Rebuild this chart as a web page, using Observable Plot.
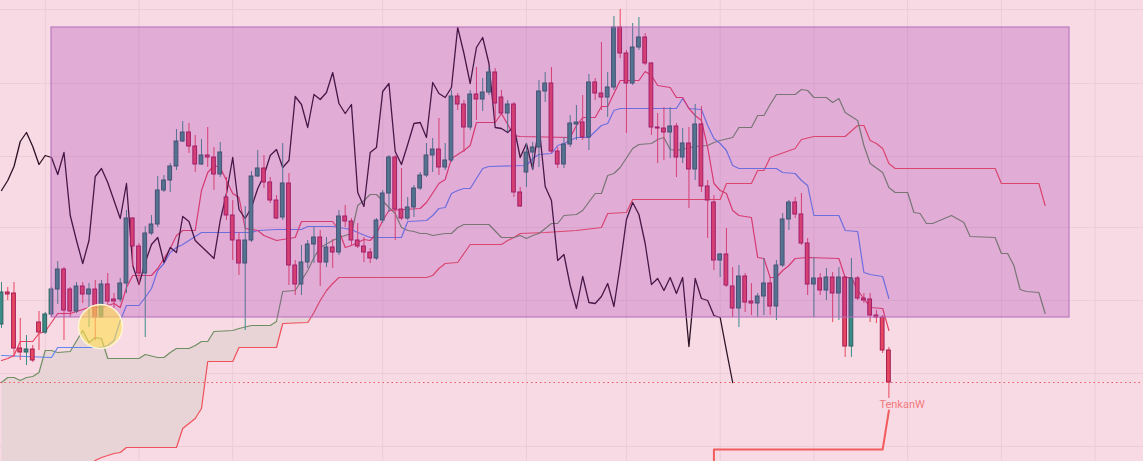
<!DOCTYPE html>
<html><head><meta charset="utf-8">
<script src="https://cdn.jsdelivr.net/npm/d3@7"></script>
<script src="https://cdn.jsdelivr.net/npm/@observablehq/plot@0.6"></script>
<style>
html,body{margin:0;padding:0;background:#f8dae4;overflow:hidden;}
#chart svg{display:block;overflow:hidden;}
</style></head><body><div id="chart"></div>
<script>
// Candles (price units), one entry per bar
const opens = [176,208,207,152,148,151,178,168,186,211,
231,211,189,214,206,211,183,216,201,201,
217,282,254,227,267,276,310,320,334,359,
368,354,336,345,343,326,303,285,260,237,
260,324,332,318,300,283,317,235,216,238,
256,263,238,253,248,284,279,260,254,248,
242,280,307,343,291,282,293,312,325,345,
351,333,340,404,396,373,406,401,408,428,
403,387,396,308,328,348,353,409,417,349,
336,356,376,378,363,418,407,403,413,473,
447,417,453,463,437,373,372,368,374,343,
357,331,376,314,298,240,246,214,192,224,
199,197,204,217,194,235,281,298,286,257,
216,222,210,223,207,223,154,222,202,201,
185,183,150];
const highs = [218,213,218,182,165,155,189,188,213,239,
233,213,218,218,217,220,220,227,207,222,
290,283,257,274,285,324,325,337,371,379,
377,365,361,373,353,358,323,300,268,294,
329,350,345,323,305,357,327,240,255,260,
273,270,263,261,290,295,282,277,263,252,
282,310,345,345,332,303,315,328,357,362,
382,357,410,407,400,410,433,422,433,432,
410,400,398,313,357,358,420,428,433,353,
363,385,395,405,426,422,458,428,484,491,
450,477,483,467,438,387,393,393,377,372,
373,396,394,320,305,247,272,233,235,227,
217,207,242,223,240,287,300,303,307,262,
243,227,232,228,233,224,242,224,207,207,
190,185,153];
const lows = [172,200,143,140,135,138,150,166,184,196,
160,183,187,197,173,160,182,195,192,198,
207,233,215,163,265,273,308,308,330,358,
347,328,335,333,310,323,280,240,225,170,
258,323,312,297,281,280,215,205,205,232,
237,214,233,232,245,273,255,252,238,237,
240,277,288,260,280,280,283,310,323,328,
325,330,338,390,348,370,380,389,405,378,
385,368,303,293,313,330,333,398,347,332,
332,353,360,360,350,400,390,383,410,442,
367,415,450,435,365,337,340,342,323,337,
292,320,308,262,230,223,213,183,173,188,
185,183,185,185,180,233,270,282,255,205,
183,205,200,178,180,143,143,200,197,178,
177,147,102];
const closes = [208,206,152,148,151,140,168,186,211,231,
190,189,214,206,211,183,216,199,199,217,
282,254,227,267,276,310,320,334,359,368,
354,336,345,343,326,348,285,260,237,260,
324,332,318,300,282,317,235,216,238,256,
263,238,253,248,284,279,260,254,248,242,
280,307,343,291,282,293,312,325,345,351,
333,340,404,396,373,406,401,408,428,397,
387,396,308,294,348,353,409,417,349,336,
356,377,378,363,418,407,403,413,473,447,
417,453,463,437,373,372,368,374,343,357,
331,376,314,300,240,246,215,192,224,198,
197,204,217,194,235,281,298,286,257,216,
222,210,223,207,223,154,222,202,200,185,
183,150,118];

// Indicator lines: [bar index, price] vertices
const tenkan = [[0,140],[1,142],[2,145],[3,159],[5,159],[6,167],[7,169],[8,178],[9,187],[11,187],[12,189],[14,193],[16,193],[18,197],[19,193],[20,213],[21,225],[24,225],[25,232],[27,252],[28,265],[29,270],[31,270],[32,310],[33,328],[34,335],[35,333],[36,320],[37,307],[38,303],[39,272],[41,270],[42,265],[44,260],[45,261],[47,263],[48,279],[53,279],[54,270],[55,253],[56,255],[58,261],[59,260],[60,267],[61,280],[62,290],[67,292],[68,298],[70,317],[71,321],[72,342],[74,350],[75,355],[76,378],[79,378],[80,387],[82,365],[83,364],[91,363],[92,375],[93,383],[95,383],[96,394],[97,394],[99,420],[102,420],[103,429],[104,425],[105,415],[107,413],[108,403],[109,403],[110,392],[111,385],[112,380],[113,353],[114,317],[115,310],[116,307],[117,290],[118,285],[120,283],[121,243],[122,242],[123,223],[124,223],[125,230],[126,235],[127,242],[129,243],[134,242],[135,223],[136,223],[137,210],[138,202],[139,193],[141,192],[142,170]];
const kijun = [[0,145],[8,143],[9,153],[16,153],[17,155],[18,160],[19,180],[20,195],[22,195],[23,203],[24,212],[25,230],[26,237],[27,248],[28,253],[29,256],[30,260],[31,264],[32,268],[40,268],[41,270],[44,271],[48,271],[49,274],[53,274],[56,271],[57,268],[59,263],[64,263],[65,279],[68,280],[69,285],[70,292],[71,293],[72,307],[73,310],[74,312],[75,312],[76,322],[77,332],[78,334],[84,335],[85,342],[86,346],[88,347],[89,355],[90,357],[91,360],[92,363],[94,363],[96,375],[97,377],[98,390],[99,392],[108,392],[109,402],[110,392],[112,391],[113,375],[114,362],[115,357],[116,350],[117,335],[118,332],[124,332],[125,328],[127,327],[128,320],[129,315],[130,285],[134,285],[135,270],[137,269],[138,228],[139,226],[141,224],[142,202]];
const senkouRed = [[0,22],[13,22],[14,34],[15,40],[16,43],[18,47],[19,48],[20,53],[28,53],[29,72],[31,82],[32,92],[33,139],[37,139],[38,153],[44,153],[45,177],[49,178],[50,188],[51,200],[52,210],[53,217],[54,223],[68,223],[69,225],[70,232],[71,237],[73,238],[74,247],[75,256],[80,256],[81,260],[82,263],[83,267],[87,268],[92,270],[96,273],[97,287],[100,288],[101,301],[115,301],[116,317],[120,317],[121,330],[122,330],[123,343],[127,352],[128,361],[130,364],[135,364],[137,375],[138,375],[139,360],[140,357],[141,352],[142,337],[143,332],[159,332],[160,317],[166,317],[167,295]];
const senkouGreen = [[0,118],[1,123],[2,123],[3,120],[4,123],[5,124],[6,128],[7,150],[8,150],[9,148],[11,149],[13,170],[14,158],[15,163],[16,162],[17,142],[22,142],[23,146],[25,143],[26,143],[27,148],[28,152],[30,152],[31,155],[32,159],[33,159],[34,169],[37,170],[38,172],[40,175],[43,175],[44,179],[45,209],[47,210],[48,220],[49,230],[50,243],[51,253],[53,260],[54,263],[56,267],[57,295],[58,300],[59,306],[60,306],[62,293],[63,287],[64,273],[65,270],[66,269],[67,267],[68,267],[69,265],[71,267],[72,267],[73,273],[74,276],[78,276],[80,263],[82,263],[83,265],[84,262],[85,265],[86,267],[88,277],[89,277],[90,285],[92,286],[93,290],[95,307],[96,307],[97,325],[98,327],[99,333],[101,352],[102,356],[104,357],[105,361],[106,363],[107,351],[108,350],[111,354],[113,355],[114,358],[115,360],[117,363],[118,373],[120,373],[121,385],[122,385],[123,396],[124,406],[127,406],[128,411],[129,410],[130,403],[132,403],[133,398],[134,402],[135,388],[136,384],[137,380],[138,355],[139,337],[141,328],[142,313],[143,308],[145,308],[146,288],[147,287],[148,277],[149,277],[152,285],[154,278],[155,264],[159,263],[160,247],[161,247],[162,235],[163,211],[164,209],[166,208],[167,187]];
const tenkanW = [[114,20],[114,51],[141,51],[142,90]];
const chikouShift = 25;

// Annotations
const zone = [{x1: 8.0, x2: 170.9, y1: 473, y2: 183}];
const marker = [{x: 15.84, y: 174}];
const labels = [{x: 142, y: 96, text: "TenkanW"}];
const gridX = [7, 22, 37, 61, 84, 100, 115, 130, 145, 160, 175];
const gridY = [491, 417, 344, 273, 200, 127, 54];

const N = opens.length;
const bars = d3.range(N).map(i => ({i, o: opens[i], h: highs[i], l: lows[i], c: closes[i]}));
const bull = bars.filter(d => d.c >= d.o);
const bear = bars.filter(d => d.c < d.o);
const pts = a => a.map(([x, y]) => ({x, y}));
const chikou = d3.range(N - chikouShift).map(j => ({x: j, y: closes[j + chikouShift]}));
// cloud polygon, shown only below the highlighted zone (it is hidden under the zone in the picture)
const zoneBottom = zone[0].y2;
const cloud = [...pts(senkouGreen), ...pts(senkouRed).reverse()].map(d => ({x: d.x, y: Math.min(d.y, zoneBottom)}));
const W = 0.3;

const chart = Plot.plot({
  width: 1143, height: 461, margin: 0,
  x: {domain: [-0.16, 182.74], axis: null},
  y: {domain: [39, 500], axis: null},
  style: {background: "#f8dae4", overflow: "hidden"},
  marks: [
    Plot.ruleX(gridX, {stroke: "#ecccd7", strokeWidth: 1}),
    Plot.ruleY(gridY, {stroke: "#ecccd7", strokeWidth: 1}),
    Plot.line(cloud, {x: "x", y: "y", fill: "#e8d3d7", stroke: "none", clip: true}),
    Plot.line(pts(senkouRed), {x: "x", y: "y", stroke: "#ef5059", strokeWidth: 1.2, clip: true}),
    Plot.line(pts(senkouGreen), {x: "x", y: "y", stroke: "#6f8f62", strokeWidth: 1.2, clip: true}),
    Plot.line(pts(kijun), {x: "x", y: "y", stroke: "#5f85ee", strokeWidth: 1.2, clip: true}),
    Plot.line(pts(tenkan), {x: "x", y: "y", stroke: "#e8405e", strokeWidth: 1.2, clip: true}),
    Plot.line(chikou, {x: "x", y: "y", stroke: "#2b1224", strokeWidth: 1.3, clip: true}),
    Plot.ruleX(bull, {x: "i", y1: "l", y2: "h", stroke: "#3b8c87", strokeWidth: 1}),
    Plot.ruleX(bear, {x: "i", y1: "l", y2: "h", stroke: "#e8465f", strokeWidth: 1}),
    Plot.rect(bull, {x1: d => d.i - W, x2: d => d.i + W, y1: "o", y2: "c", fill: "#3b8c87", stroke: "#2b5f60", strokeWidth: 1}),
    Plot.rect(bear, {x1: d => d.i - W, x2: d => d.i + W, y1: "o", y2: "c", fill: "#e8485f", stroke: "#a31a55", strokeWidth: 1}),
    Plot.rect(zone, {x1: "x1", x2: "x2", y1: "y1", y2: "y2", fill: "#9c27b0", fillOpacity: 0.25, stroke: "#b36bbb", strokeWidth: 1}),
    Plot.dot(marker, {x: "x", y: "y", r: 22, fill: "#ffe04f", fillOpacity: 0.6, stroke: "#fff6d6", strokeWidth: 1.5}),
    Plot.ruleY([closes[N - 1]], {stroke: "#f05a5a", strokeWidth: 1, strokeDasharray: "1.5,3"}),
    Plot.line(pts(tenkanW), {x: "x", y: "y", stroke: "#f25c5c", strokeWidth: 2, clip: true}),
    Plot.text(labels, {x: "x", y: "y", text: "text", fill: "#f27b80", fontSize: 11, fontFamily: "Roboto, sans-serif", textAnchor: "start", dx: -9.5})
  ]
});
document.getElementById("chart").appendChild(chart);
</script>
</body></html>
